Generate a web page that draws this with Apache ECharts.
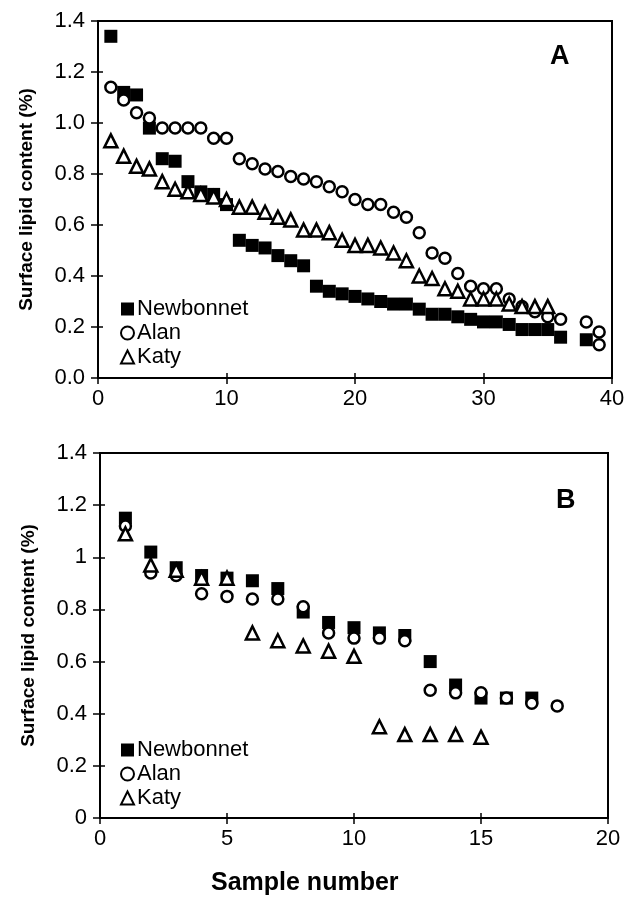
<!DOCTYPE html>
<html><head><meta charset="utf-8">
<script src="https://cdn.jsdelivr.net/npm/echarts@6/dist/echarts.min.js"></script>
<style>html,body{margin:0;padding:0;background:#fff}#c{width:628px;height:903px}</style>
</head><body><div id="c"></div>
<script>
// Panel A data: [sample number, surface lipid content %]
const newbonnetA = [[1,1.34],[2,1.12],[3,1.11],[4,0.98],[5,0.86],[6,0.85],[7,0.77],[8,0.73],[9,0.72],[10,0.68],
  [11,0.54],[12,0.52],[13,0.51],[14,0.48],[15,0.46],[16,0.44],[17,0.36],[18,0.34],[19,0.33],[20,0.32],
  [21,0.31],[22,0.30],[23,0.29],[24,0.29],[25,0.27],[26,0.25],[27,0.25],[28,0.24],[29,0.23],[30,0.22],
  [31,0.22],[32,0.21],[33,0.19],[34,0.19],[35,0.19],[36,0.16],[38,0.15]];
const alanA = [[1,1.14],[2,1.09],[3,1.04],[4,1.02],[5,0.98],[6,0.98],[7,0.98],[8,0.98],[9,0.94],[10,0.94],
  [11,0.86],[12,0.84],[13,0.82],[14,0.81],[15,0.79],[16,0.78],[17,0.77],[18,0.75],[19,0.73],[20,0.70],
  [21,0.68],[22,0.68],[23,0.65],[24,0.63],[25,0.57],[26,0.49],[27,0.47],[28,0.41],[29,0.36],[30,0.35],
  [31,0.35],[32,0.31],[33,0.28],[34,0.26],[35,0.24],[36,0.23],[38,0.22],[39,0.18],[39,0.13]];
const katyA = [[1,0.93],[2,0.87],[3,0.83],[4,0.82],[5,0.77],[6,0.74],[7,0.73],[8,0.72],[9,0.71],[10,0.70],
  [11,0.67],[12,0.67],[13,0.65],[14,0.63],[15,0.62],[16,0.58],[17,0.58],[18,0.57],[19,0.54],[20,0.52],
  [21,0.52],[22,0.51],[23,0.49],[24,0.46],[25,0.40],[26,0.39],[27,0.35],[28,0.34],[29,0.31],[30,0.31],
  [31,0.31],[32,0.29],[33,0.28],[34,0.28],[35,0.28]];
// Panel B data
const newbonnetB = [[1,1.15],[2,1.02],[3,0.96],[4,0.93],[5,0.92],[6,0.91],[7,0.88],[8,0.79],[9,0.75],[10,0.73],
  [11,0.71],[12,0.70],[13,0.60],[14,0.51],[15,0.46],[16,0.46],[17,0.46]];
const alanB = [[1,1.12],[2,0.94],[3,0.93],[4,0.86],[5,0.85],[6,0.84],[7,0.84],[8,0.81],[9,0.71],[10,0.69],
  [11,0.69],[12,0.68],[13,0.49],[14,0.48],[15,0.48],[16,0.46],[17,0.44],[18,0.43]];
const katyB = [[1,1.09],[2,0.97],[3,0.95],[4,0.92],[5,0.92],[6,0.71],[7,0.68],[8,0.66],[9,0.64],[10,0.62],
  [11,0.35],[12,0.32],[13,0.32],[14,0.32],[15,0.31]];
const seriesNames = ['Newbonnet','Alan','Katy'];

const FONT = 'Liberation Sans, Arial, Helvetica, sans-serif';
const chart = echarts.init(document.getElementById('c'), null, {renderer:'canvas'});

function xAxis(gi, max, interval){
  return {type:'value', gridIndex:gi, min:0, max:max, interval:interval,
    axisLine:{show:true, lineStyle:{color:'#000', width:2}},
    axisTick:{show:true, length:6, lineStyle:{color:'#000', width:1.5}},
    splitLine:{show:false},
    axisLabel:{color:'#000', fontSize:22, fontFamily:FONT, margin:10}};
}
function xAxisIn(gi, max, interval){
  return {type:'value', gridIndex:gi, min:0, max:max, interval:interval, position:'bottom',
    axisLine:{show:false}, axisTick:{show:true, inside:true, length:5, lineStyle:{color:'#000', width:1.5}},
    splitLine:{show:false}, axisLabel:{show:false}};
}
function yAxis(gi, fmt){
  return {type:'value', gridIndex:gi, min:0, max:1.4, interval:0.2,
    axisLine:{show:true, lineStyle:{color:'#000', width:2}},
    axisTick:{show:true, length:7, lineStyle:{color:'#000', width:1.5}},
    splitLine:{show:false},
    axisLabel:{color:'#000', fontSize:22, fontFamily:FONT, margin:13, formatter:fmt},
    name:'Surface lipid content (%)', nameLocation:'middle', nameGap:62,
    nameTextStyle:{color:'#000', fontSize:19, fontWeight:'bold', fontFamily:FONT}};
}
function yAxisIn(gi){
  return {type:'value', gridIndex:gi, min:0, max:1.4, interval:0.2, position:'left',
    axisLine:{show:false}, axisTick:{show:true, inside:true, length:5, lineStyle:{color:'#000', width:1.5}},
    splitLine:{show:false}, axisLabel:{show:false}};
}
function mk(name, data, gi, kind){
  const s = {name:name, type:'scatter', xAxisIndex:gi, yAxisIndex:gi, data:data, animation:false};
  if(kind==='sq'){ s.symbol='rect'; s.symbolSize=13; s.itemStyle={color:'#000', opacity:1}; }
  if(kind==='ci'){ s.symbol='circle'; s.symbolSize=11; s.itemStyle={color:'#fff', borderColor:'#000', borderWidth:2.5, opacity:1}; }
  if(kind==='tr'){ s.symbol='triangle'; s.symbolSize=13; s.itemStyle={color:'#fff', borderColor:'#000', borderWidth:2.5, opacity:1}; }
  return s;
}
const legendBase = {orient:'vertical', itemWidth:13, itemHeight:13, itemGap:2, left:115,
  textStyle:{color:'#000', fontSize:22, fontFamily:FONT, padding:[0,0,0,-2]}, data:seriesNames, selectedMode:false};

chart.setOption({
  backgroundColor:'#fff',
  animation:false,
  grid:[
    {left:98, top:21, width:514, height:357, show:true, borderColor:'#000', borderWidth:2},
    {left:100, top:453, width:508, height:365, show:true, borderColor:'#000', borderWidth:2}
  ],
  xAxis:[xAxis(0,40,10), xAxis(1,20,5), xAxisIn(0,40,10), xAxisIn(1,20,5)],
  yAxis:[yAxis(0, v => v.toFixed(1)), yAxis(1, v => String(+v.toFixed(1))), yAxisIn(0), yAxisIn(1)],
  legend:[Object.assign({}, legendBase, {top:293}), Object.assign({}, legendBase, {top:734})],
  graphic:[
    {type:'text', left:550, top:43, style:{text:'A', font:'bold 27px '+FONT, fill:'#000'}},
    {type:'text', left:556, top:487, style:{text:'B', font:'bold 27px '+FONT, fill:'#000'}},
    {type:'text', left:211, top:871, style:{text:'Sample number', font:'bold 25px '+FONT, fill:'#000'}}
  ],
  series:[
    mk(seriesNames[0], newbonnetA, 0, 'sq'), mk(seriesNames[1], alanA, 0, 'ci'), mk(seriesNames[2], katyA, 0, 'tr'),
    mk(seriesNames[0], newbonnetB, 1, 'sq'), mk(seriesNames[1], alanB, 1, 'ci'), mk(seriesNames[2], katyB, 1, 'tr')
  ]
});
</script></body></html>
